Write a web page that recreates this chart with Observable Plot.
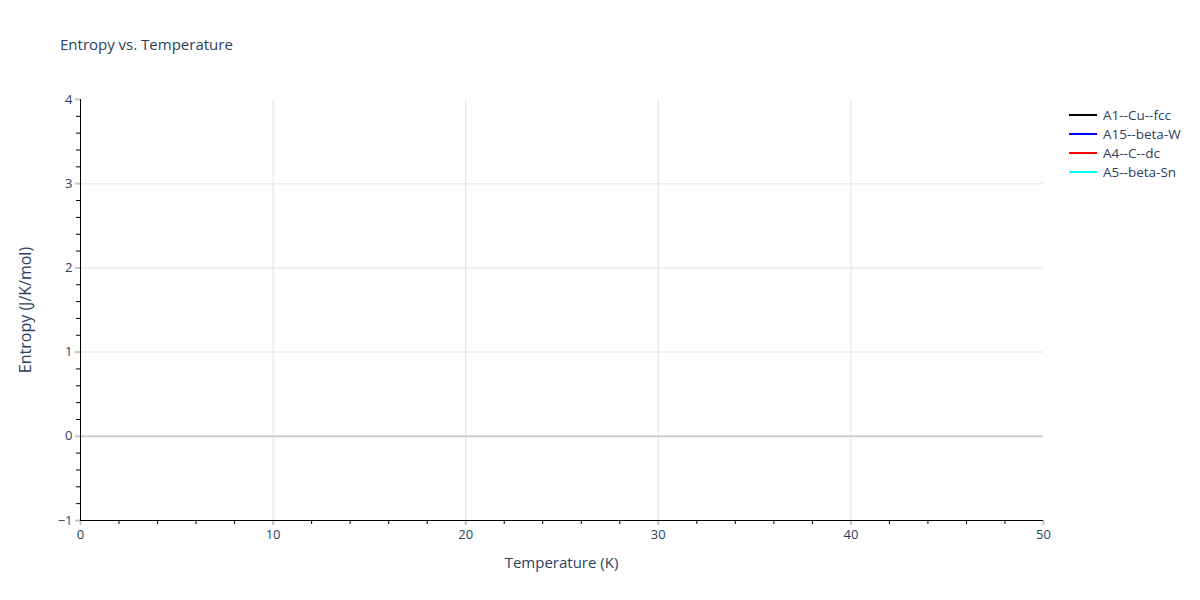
<!DOCTYPE html>
<html>
<head>
<meta charset="utf-8">
<script src="https://cdn.jsdelivr.net/npm/d3@7"></script>
<script src="https://cdn.jsdelivr.net/npm/@observablehq/plot@0.6"></script>
<style>
  html, body { margin: 0; padding: 0; background: #fff; }
  #wrap { position: relative; width: 1200px; height: 600px; font-family: "Open Sans", "DejaVu Sans", sans-serif; color: #2a3f5f; }
  #wrap svg { position: absolute; left: 0; top: 0; }
  .title { position: absolute; left: 60px; top: 34px; font-size: 15px; white-space: nowrap; }
  .xlab { position: absolute; left: 80px; width: 963px; top: 552px; text-align: center; font-size: 15px; }
  .ylab { position: absolute; left: 25px; top: 310px; font-size: 16px; white-space: nowrap; transform: translate(-50%, -50%) rotate(-90deg); }
  .legend { position: absolute; left: 1069px; top: 105px; font-size: 13.5px; }
  .legend .row { display: flex; align-items: center; height: 19px; }
  .legend .sw { width: 28px; height: 2px; margin-right: 6px; }
</style>
</head>
<body>
<div id="wrap">
  <div class="title">Entropy vs. Temperature</div>
  <div class="xlab">Temperature (K)</div>
  <div class="ylab">Entropy (J/K/mol)</div>
  <div class="legend" id="legend"></div>
</div>
<script>
// Series (no data points visible in the reference's plotted range)
const seriesNames = ["A1--Cu--fcc", "A15--beta-W", "A4--C--dc", "A5--beta-Sn"];
const seriesColors = ["black", "blue", "red", "cyan"];
const temperature = [];          // K
const entropyA1 = [];            // J/K/mol
const entropyA15 = [];
const entropyA4 = [];
const entropyA5 = [];

const xTicks = [0, 10, 20, 30, 40, 50];
const yTicks = [-1, 0, 1, 2, 3, 4];
const xMinor = [2, 4, 6, 8, 12, 14, 16, 18, 22, 24, 26, 28, 32, 34, 36, 38, 42, 44, 46, 48];
const yMinor = [-0.8, -0.6, -0.4, -0.2, 0.2, 0.4, 0.6, 0.8, 1.2, 1.4, 1.6, 1.8, 2.2, 2.4, 2.6, 2.8, 3.2, 3.4, 3.6, 3.8];

const seriesValues = [entropyA1, entropyA15, entropyA4, entropyA5];
const rows = [];
seriesNames.forEach((name, i) => {
  seriesValues[i].forEach((v, j) => rows.push({series: name, T: temperature[j], S: v}));
});

const chart = Plot.plot({
  width: 1200,
  height: 600,
  marginLeft: 80,
  marginRight: 157,
  marginTop: 99,
  marginBottom: 80,
  style: {fontFamily: "'Open Sans', 'DejaVu Sans', sans-serif", fontSize: "13px", color: "#2a3f5f", background: "white"},
  x: {domain: [0, 50]},
  y: {domain: [-1, 4]},
  color: {domain: seriesNames, range: seriesColors},
  marks: [
    Plot.gridY([1, 2, 3], {stroke: "#ebebeb", strokeOpacity: 1, strokeWidth: 1.5}),
    Plot.gridX([10, 20, 30, 40], {stroke: "#e2e2e2", strokeOpacity: 1, strokeWidth: 1}),
    Plot.ruleY([0], {stroke: "#cccccc", strokeWidth: 2}),
    Plot.line(rows, {x: "T", y: "S", z: "series", stroke: "series", strokeWidth: 2}),
    Plot.axisX(xTicks, {tickSize: 5, tickPadding: 4, stroke: "#c4c4c4", strokeWidth: 2, strokeOpacity: 1, fill: "#2a3f5f", label: null, fontSize: 13, tickFormat: d3.format("d")}),
    Plot.axisX(xMinor, {tickSize: 4, tickFormat: () => "", stroke: "black", label: null}),
    Plot.axisY(yTicks, {tickSize: 5, tickPadding: 3, stroke: "#c4c4c4", strokeWidth: 2, strokeOpacity: 1, fill: "#2a3f5f", label: null, fontSize: 13, tickFormat: d3.format("d")}),
    Plot.axisY(yMinor, {tickSize: 4, tickFormat: () => "", stroke: "black", label: null}),
    Plot.ruleX([0], {stroke: "black", strokeWidth: 1}),
    Plot.ruleY([-1], {stroke: "black", strokeWidth: 1})
  ]
});
document.getElementById("wrap").prepend(chart);

const legend = document.getElementById("legend");
seriesNames.forEach((name, i) => {
  const row = document.createElement("div");
  row.className = "row";
  const sw = document.createElement("div");
  sw.className = "sw";
  sw.style.background = seriesColors[i];
  const lab = document.createElement("span");
  lab.textContent = name;
  row.appendChild(sw);
  row.appendChild(lab);
  legend.appendChild(row);
});
</script>
</body>
</html>
